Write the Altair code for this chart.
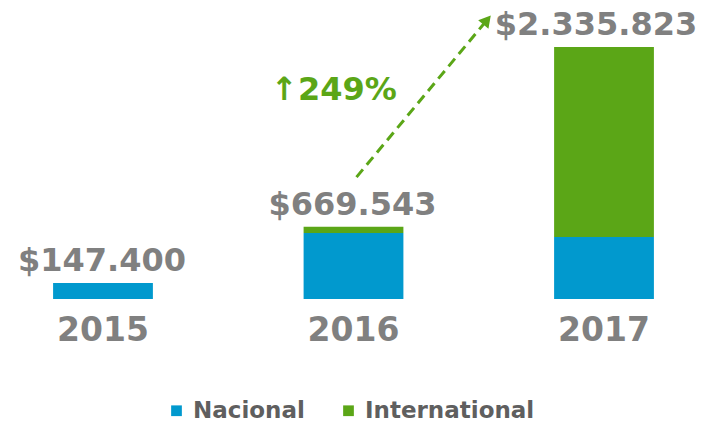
import altair as alt
import pandas as pd

years = ["2015", "2016", "2017"]
nacional = [147400, 612000, 574000]
international = [0, 57543, 1761823]
totals = [147400, 669543, 2335823]
total_labels = ["$147.400", "$669.543", "$2.335.823"]

arrow_x = [2016.01, 2016.53]
arrow_y = [1130000, 2586000]
growth_text = ["↑249%"]
growth_x = [2015.92]
growth_y = [1937000]

BLUE = "#0199CE"
GREEN = "#5BA617"
GRAY = "#808080"
FONT = "DejaVu Sans"

rows = []
for i, y in enumerate(years):
    rows.append({"year": y, "tipo": "Nacional", "valor": nacional[i], "orden": 0})
    rows.append({"year": y, "tipo": "International", "valor": international[i], "orden": 1})
bars_df = pd.DataFrame(rows)
tot_df = pd.DataFrame({"year": years, "total": totals, "label": total_labels})
arrow_df = pd.DataFrame({"x": arrow_x, "v": arrow_y})
head_df = arrow_df.iloc[[1]]
growth_df = pd.DataFrame({"x": growth_x, "v": growth_y, "t": growth_text})

YMAX = 2335823 * 291 / 252
yscale = alt.Scale(domain=[0, YMAX], nice=False, zero=True)
xband = alt.Scale(type="band", domain=years, paddingInner=0.6016, paddingOuter=0.18)
xlin = alt.Scale(domain=[2014.6215, 2017.3745], nice=False, zero=False)

year_axis = alt.Axis(title=None, domain=False, ticks=False, labelAngle=0,
                     labelFont=FONT, labelFontSize=33, labelFontWeight="bold",
                     labelColor=GRAY, labelPadding=15)

bars = alt.Chart(bars_df).mark_bar().encode(
    x=alt.X("year:N", scale=xband, sort=years, axis=year_axis),
    y=alt.Y("valor:Q", stack="zero", scale=yscale, axis=None),
    color=alt.Color("tipo:N", scale=alt.Scale(domain=["Nacional", "International"], range=[BLUE, GREEN]),
                    legend=alt.Legend(title=None, orient="none", legendX=157, legendY=391,
                                      direction="horizontal", symbolType="square", symbolSize=115,
                                      symbolStrokeWidth=0, labelFont=FONT, labelFontSize=23,
                                      labelFontWeight="bold", labelColor="#5f5f5f",
                                      labelOffset=5, columnPadding=32, labelLimit=400)),
    order=alt.Order("orden:Q"),
)

label_base = alt.Chart(tot_df).encode(
    x=alt.X("year:N", scale=xband, sort=years, axis=year_axis),
    y=alt.Y("total:Q", scale=yscale),
    text="label:N",
)
labels_a = label_base.mark_text(font=FONT, fontSize=32, fontWeight="bold", color=GRAY, dy=-12,
                                dx=-1, baseline="alphabetic").transform_filter("datum.year != '2017'")
labels_b = label_base.mark_text(font=FONT, fontSize=32, fontWeight="bold", color=GRAY, dy=-12,
                                dx=-8, baseline="alphabetic").transform_filter("datum.year == '2017'")

base_layer = alt.layer(bars, labels_a, labels_b)

arrow = alt.Chart(arrow_df).mark_line(color=GREEN, strokeWidth=3, strokeDash=[10, 6]).encode(
    x=alt.X("x:Q", scale=xlin, axis=None),
    y=alt.Y("v:Q", scale=yscale),
)
head = alt.Chart(head_df).mark_point(shape="triangle-up", filled=True, color=GREEN, size=180,
                                     angle=40, opacity=1).encode(
    x=alt.X("x:Q", scale=xlin, axis=None),
    y=alt.Y("v:Q", scale=yscale),
)
growth = alt.Chart(growth_df).mark_text(font=FONT, fontSize=32, fontWeight="bold", color=GREEN,
                                        baseline="middle").encode(
    x=alt.X("x:Q", scale=xlin, axis=None),
    y=alt.Y("v:Q", scale=yscale),
    text="t:N",
)

chart = alt.layer(base_layer, arrow, head, growth).resolve_scale(x="independent").properties(
    width=691, height=291,
    autosize=alt.AutoSizeParams(type="none"),
    padding={"left": 0, "top": 0, "right": 0, "bottom": 119},
).configure_view(stroke=None)

chart.save("out.html", embed_options={"renderer": "svg", "actions": False})
